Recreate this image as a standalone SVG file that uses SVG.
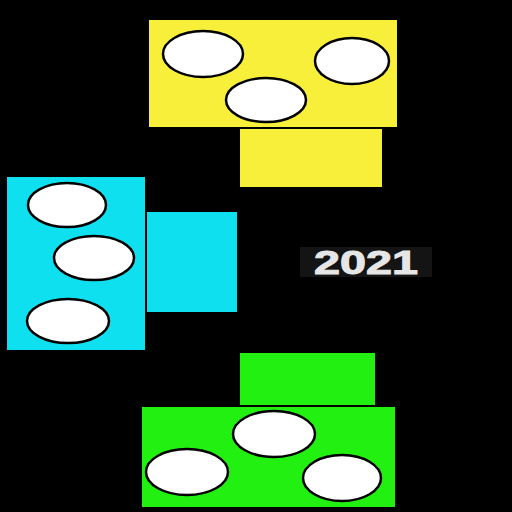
<svg xmlns="http://www.w3.org/2000/svg" width="512" height="512" viewBox="0 0 512 512">
<style>
.y{fill:#f7ef3a}.c{fill:#0fe0f0}.g{fill:#22f011}
.e{fill:#fff;stroke:#000;stroke-width:2.5}
.t{font-family:"Liberation Sans",Arial,sans-serif;font-weight:bold;font-size:33px;fill:#e6e6e6;stroke:#e6e6e6;stroke-width:1}
</style>
<rect width="512" height="512" fill="#000"/>
<g id="yellow">
<rect class="y" x="149" y="20" width="248" height="107"/>
<rect class="y" x="240" y="129" width="142" height="58"/>
<ellipse class="e" cx="203" cy="54" rx="40" ry="23"/>
<ellipse class="e" cx="352" cy="61" rx="37" ry="23"/>
<ellipse class="e" cx="266" cy="100" rx="40" ry="22"/>
</g>
<g id="cyan">
<rect class="c" x="7" y="177" width="138" height="173"/>
<rect class="c" x="147" y="212" width="90" height="100"/>
<ellipse class="e" cx="67" cy="205" rx="39" ry="22"/>
<ellipse class="e" cx="94" cy="258" rx="40" ry="22"/>
<ellipse class="e" cx="68" cy="321" rx="41" ry="22"/>
</g>
<g id="green">
<rect class="g" x="240" y="353" width="135" height="52"/>
<rect class="g" x="142" y="407" width="253" height="100"/>
<ellipse class="e" cx="187" cy="472" rx="41" ry="23"/>
<ellipse class="e" cx="274" cy="434" rx="41" ry="23"/>
<ellipse class="e" cx="342" cy="478" rx="39" ry="23"/>
</g>
<g id="label">
<rect x="300" y="247" width="132" height="30" fill="#141414"/>
<text class="t" x="314" y="274" textLength="104" lengthAdjust="spacingAndGlyphs">2021</text>
</g>
<g id="connectors"></g>
</svg>
